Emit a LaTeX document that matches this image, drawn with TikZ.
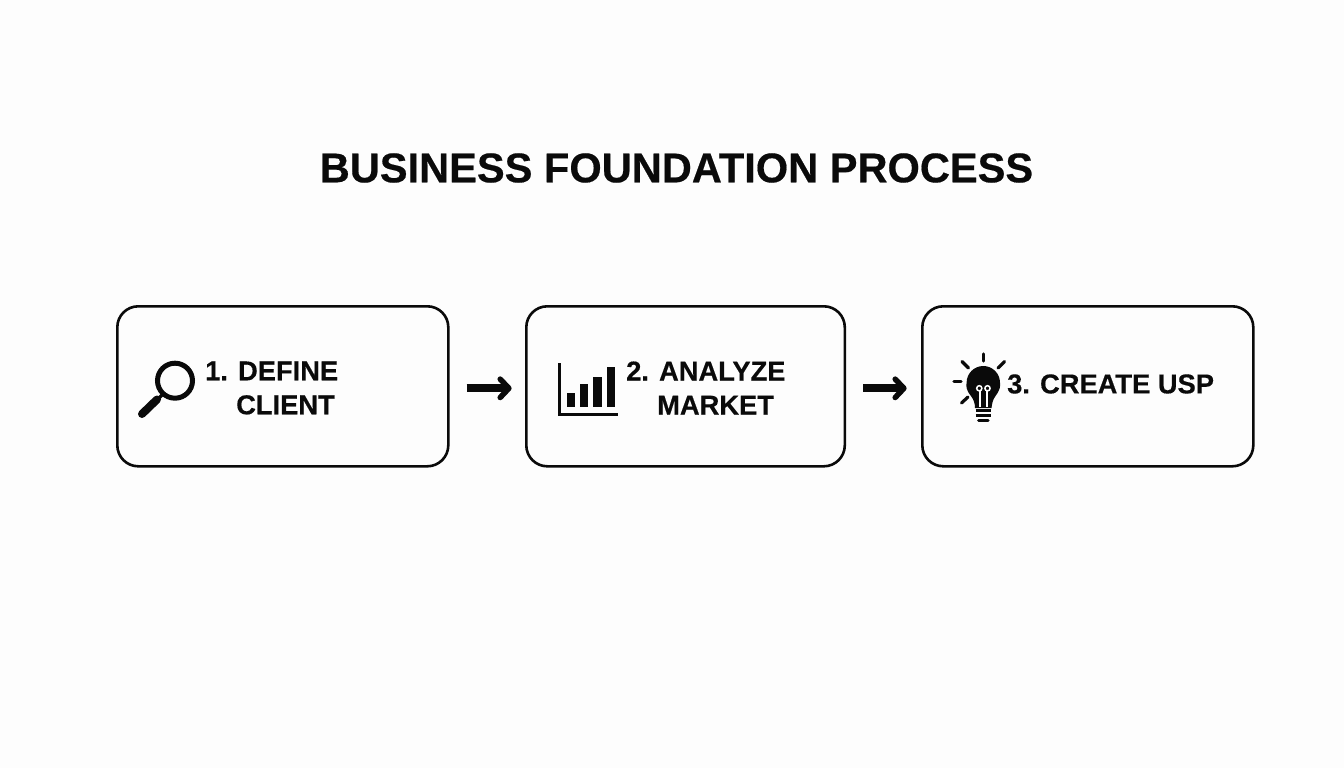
\documentclass[tikz,border=0pt]{standalone}
\usepackage{fontspec}
\setmainfont[BoldFeatures={FakeBold=0.4}]{Liberation Sans}
\usetikzlibrary{arrows.meta}
\definecolor{ink}{HTML}{0A0A0A}
\definecolor{paper}{HTML}{FDFDFD}
\pgfdeclarearrow{
  name=Chevron,
  setup code={
    \pgfarrowssettipend{0pt}
    \pgfarrowssetlineend{-4pt}
    \pgfarrowssetvisualbackend{-4pt}
    \pgfarrowssetbackend{-15pt}
    \pgfarrowshullpoint{0pt}{0pt}
    \pgfarrowshullpoint{-15pt}{12pt}
    \pgfarrowshullpoint{-15pt}{-12pt}
  },
  drawing code={
    \pgfsetlinewidth{5.5pt}
    \pgfsetroundjoin
    \pgfsetroundcap
    \pgfsetdash{}{0pt}
    \pgfpathmoveto{\pgfqpoint{-11.5pt}{9.2pt}}
    \pgfpathlineto{\pgfqpoint{-2.8pt}{0pt}}
    \pgfpathlineto{\pgfqpoint{-11.5pt}{-9.2pt}}
    \pgfusepathqstroke
  }
}
\tikzset{
  x=1pt,y=-1pt,
  stepbox/.style={draw=ink,line width=2.6pt,rounded corners=21pt,inner sep=0pt,outer sep=0pt,anchor=north west},
  steptext/.style={text=ink,font=\bfseries\fontsize{27.3}{34}\selectfont,align=left,inner sep=0pt,anchor=west},
  flow/.style={draw=ink,line width=8pt,-Chevron},
  icon/.style={line width=3.2pt,draw=ink,line cap=round},
}
\begin{document}
\begin{tikzpicture}
\useasboundingbox[fill=paper] (0,0) rectangle (1344,768);
\node[text=ink,font=\bfseries\fontsize{41.6}{48}\selectfont,inner sep=0pt] (title) at (676.5,168) {BUSINESS FOUNDATION PROCESS};
\node[stepbox,minimum width=331pt,minimum height=160pt] (b1) at (117.3,306.3) {};
\node[stepbox,minimum width=318.5pt,minimum height=160pt] (b2) at (526.3,306.3) {};
\node[stepbox,minimum width=331pt,minimum height=160pt] (b3) at (922.3,306.3) {};
\node[steptext] (t1) at (205,388) {1. DEFINE\\\hspace*{31pt}CLIENT};
\node[steptext] (t2) at (626,388) {2. ANALYZE\\\hspace*{31pt}MARKET};
\node[steptext] (t3) at (1007,384) {3. CREATE USP};
\draw[flow,shorten <=18.4pt,shorten >=14.6pt] ([yshift=-2pt]b1.east) -- ([yshift=-2pt]b2.west);
\draw[flow,shorten <=18.5pt,shorten >=15.6pt] ([yshift=-2pt]b2.east) -- ([yshift=-2pt]b3.west);
% magnifier
\draw[ink,line width=5pt] (175,380.7) circle (17.5);
\draw[ink,line width=3.5pt] (163,394) -- (155,402);
\draw[ink,line width=8pt,line cap=round] (157,399.5) -- (142,414);
% chart
\draw[ink,line width=3pt] (559,363) -- (559,414) -- (618,414);
\foreach \xa/\ya in {566.7/393.3,580/384.3,593.3/377.3,606.7/367.3}
  \fill[ink] (\xa,\ya) rectangle ++(8.4,407.3-\ya);
% bulb
\fill[ink] (971,396) .. controls (966,390) and (966,386) .. (966.6,382.7) arc[start angle=180,end angle=360,radius=16.7] .. controls (1000.6,386) and (1000,390) .. (995.5,396) .. controls (992.5,400) and (992,404) .. (991.5,408) -- (975,408) .. controls (975,404) and (974,400) .. (971,396) -- cycle;
\draw[white,line width=1.6pt] (979.8,407) -- (979.8,391) (986.8,407) -- (986.8,391);
\draw[white,line width=1.5pt] (979.3,388.3) circle (2.6) (987.5,388.3) circle (2.6);
\draw[ink,line width=2.6pt] (975.5,410.5) -- (991,410.5) (975.5,415.5) -- (991,415.5);
\draw[ink,line width=3pt,line cap=round] (978.5,420) -- (988,420);
\draw[icon] (983.3,354) -- (983.3,361);
\draw[icon] (954,381.7) -- (961,381.7);
\draw[icon] (962,361.5) -- (968.5,368);
\draw[icon] (1004.5,361.5) -- (998,368);
\draw[icon] (961.5,403) -- (968,397);
\end{tikzpicture}
\end{document}
